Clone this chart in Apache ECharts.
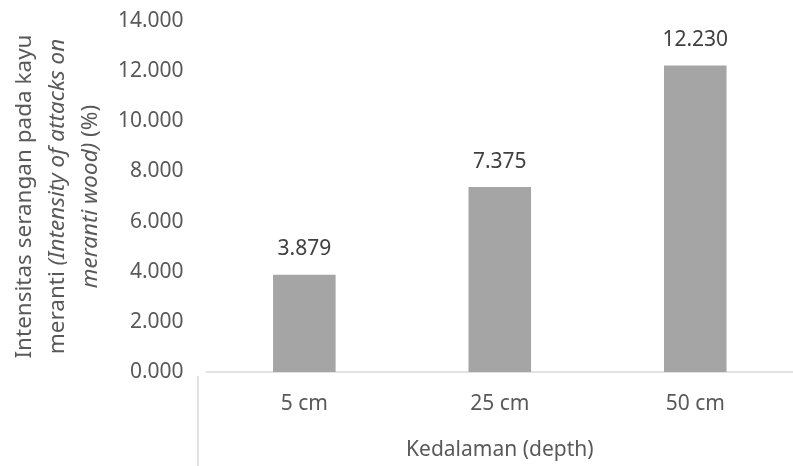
<!DOCTYPE html>
<html>
<head>
<meta charset="utf-8">
<script src="https://cdn.jsdelivr.net/npm/echarts@6/dist/echarts.min.js"></script>
<style>
  html, body { margin: 0; padding: 0; background: #fff; }
  #chart { width: 793px; height: 466px; }
</style>
</head>
<body>
<div id="chart"></div>
<script>
// Depth categories and attack intensity on meranti wood (%)
const categories = ['5 cm', '25 cm', '50 cm'];
const intensity = [3.879, 7.375, 12.230];
const yTicks = { min: 0, max: 14, interval: 2 };

const FONT = 'Noto Sans';
const TEXT = '#595959';
const AXIS = '#d9d9d9';
const TITLE_SIZE = 22.5;

const chart = echarts.init(document.getElementById('chart'), null, { renderer: 'canvas' });

chart.setOption({
  animation: false,
  textStyle: { fontFamily: FONT },
  grid: { left: 198, top: 21, width: 605, bottom: 90, containLabel: false },
  xAxis: {
    type: 'category',
    data: categories,
    axisLine: { show: true, lineStyle: { color: AXIS, width: 1.5 } },
    axisTick: { show: false },
    axisLabel: { color: TEXT, fontSize: 21, fontFamily: FONT, margin: 22 },
    name: 'Kedalaman (depth)',
    nameLocation: 'middle',
    nameGap: 68,
    nameTextStyle: { color: TEXT, fontSize: 21, fontFamily: FONT }
  },
  yAxis: {
    type: 'value',
    min: yTicks.min,
    max: yTicks.max,
    interval: yTicks.interval,
    axisLine: { show: false },
    axisTick: { show: false },
    splitLine: { show: false },
    axisLabel: {
      color: TEXT, fontSize: 21, fontFamily: FONT, margin: 23,
      formatter: v => v.toFixed(3)
    },
    name: '{n|Intensitas serangan pada kayu}\n{n|meranti }{i|(Intensity of attacks on}\n{i|meranti wood)}{n| (%)}',
    nameLocation: 'middle',
    nameRotate: 90,
    nameGap: 98,
    nameTextStyle: {
      color: TEXT, fontSize: TITLE_SIZE, fontFamily: FONT, lineHeight: 33, align: 'center',
      rich: {
        n: { color: TEXT, fontSize: TITLE_SIZE, fontFamily: FONT, lineHeight: 33 },
        i: { color: TEXT, fontSize: TITLE_SIZE, fontFamily: FONT, fontStyle: 'italic', lineHeight: 33 }
      }
    }
  },
  series: [{
    type: 'bar',
    data: intensity,
    barWidth: '32%',
    itemStyle: { color: '#a5a5a5' },
    label: {
      show: true,
      position: 'top',
      distance: 15,
      color: '#404040',
      fontSize: 21,
      fontFamily: FONT,
      formatter: p => p.value.toFixed(3)
    }
  }],
  graphic: [{
    // divider line below the category axis at its left end
    type: 'line',
    shape: { x1: 198, y1: 376, x2: 198, y2: 466 },
    style: { stroke: AXIS, lineWidth: 1.5 }
  }]
});
</script>
</body>
</html>
